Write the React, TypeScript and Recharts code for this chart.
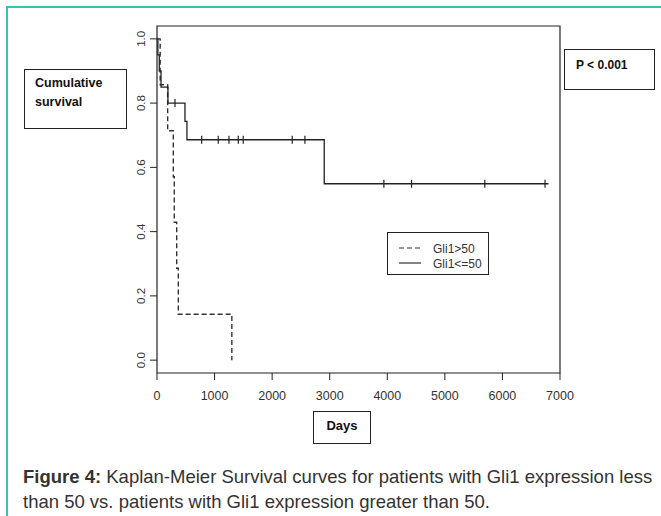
import { ComposedChart, Line, Scatter, XAxis, YAxis, ReferenceArea } from "recharts";

const xTicks = [0, 1000, 2000, 3000, 4000, 5000, 6000, 7000];
const yTicks = [0, 0.2, 0.4, 0.6, 0.8, 1.0];

// Gli1<=50 (solid)
const lowTimes = [0, 15, 40, 70, 190, 486, 520, 2905, 6800];
const lowSurv = [1, 0.95, 0.9, 0.85, 0.8, 0.743, 0.686, 0.549, 0.549];
const lowCensorTimes = [312, 776, 1064, 1250, 1412, 1498, 2349, 2569, 3941, 4421, 5694, 6740];
const lowCensorSurv = [0.8, 0.686, 0.686, 0.686, 0.686, 0.686, 0.686, 0.686, 0.549, 0.549, 0.549, 0.549];

// Gli1>50 (dashed)
const highTimes = [0, 55, 185, 283, 300, 342, 370, 1300];
const highSurv = [1, 0.857, 0.714, 0.571, 0.429, 0.286, 0.143, 0];

const lowData = lowTimes.map((t, i) => ({ t, s: lowSurv[i] }));
const lowCensors = lowCensorTimes.map((t, i) => ({ t, s: lowCensorSurv[i] }));
const highData = highTimes.map((t, i) => ({ t, s: highSurv[i] }));

const FONT = "'Liberation Sans', Arial, Helvetica, sans-serif";
const INK = "#222";

function CensorMark(props: any) {
  const { cx, cy } = props;
  return <line x1={cx} x2={cx} y1={cy - 4} y2={cy + 4} stroke={INK} strokeWidth={1.2} />;
}

function YTick(props: any) {
  const { x, y, payload } = props;
  const bx = x - 1;
  return (
    <text
      x={bx}
      y={y}
      transform={`rotate(-90 ${bx} ${y})`}
      textAnchor="middle"
      fontSize={11.5}
      fontFamily={FONT}
      fill="#333"
    >
      {Number(payload.value).toFixed(1)}
    </text>
  );
}

const boxStyle = {
  position: "absolute" as const,
  border: "1px solid #222",
  background: "#fff",
  boxSizing: "border-box" as const,
  fontFamily: FONT,
  fontWeight: 700,
  fontSize: 12,
  color: "#111",
};

export default function App() {
  return (
    <div
      style={{
        position: "absolute",
        left: 0,
        top: 0,
        width: 661,
        height: 516,
        overflow: "hidden",
        background: "#fff",
        fontFamily: FONT,
      }}
    >
      {/* teal frame */}
      <div
        style={{
          position: "absolute",
          left: 6,
          top: 6,
          width: 720,
          height: 600,
          borderTop: "2px solid #35c4b1",
          borderLeft: "2px solid #35c4b1",
        }}
      />

      <div style={{ position: "absolute", left: 0, top: 0 }}>
        <ComposedChart
          width={661}
          height={516}
          margin={{ top: 26, right: 101, bottom: 113, left: 117 }}
        >
          <XAxis
            dataKey="t"
            type="number"
            domain={[0, 7000]}
            ticks={xTicks}
            allowDataOverflow
            axisLine={false}
            tickLine={{ stroke: INK }}
            tickSize={7}
            tickMargin={11}
            height={30}
            interval={0}
            tick={{ fill: "#333", fontSize: 12.5, fontFamily: FONT }}
          />
          <YAxis
            type="number"
            domain={[-0.04, 1.04]}
            ticks={yTicks}
            allowDataOverflow
            axisLine={false}
            tickLine={{ stroke: INK }}
            tickSize={7}
            tickMargin={4}
            width={40}
            interval={0}
            tick={<YTick />}
          />
          <ReferenceArea
            x1={0}
            x2={7000}
            y1={-0.04}
            y2={1.04}
            fill="none"
            stroke={INK}
            strokeWidth={1.2}
            fillOpacity={0}
            strokeOpacity={1}
          />
          <Line
            data={highData}
            dataKey="s"
            type="stepAfter"
            stroke="#333"
            strokeWidth={1.4}
            strokeDasharray="5 3"
            dot={false}
            isAnimationActive={false}
          />
          <Line
            data={lowData}
            dataKey="s"
            type="stepAfter"
            stroke="#222"
            strokeWidth={1.3}
            dot={false}
            isAnimationActive={false}
          />
          <Scatter data={lowCensors} dataKey="s" shape={<CensorMark />} isAnimationActive={false} />
        </ComposedChart>
      </div>

      {/* Cumulative survival label */}
      <div style={{ ...boxStyle, left: 24, top: 69, width: 103, height: 60, padding: "4px 0 0 10px", lineHeight: "19px", fontSize: 12.5 }}>
        Cumulative
        <br />
        survival
      </div>

      {/* P value */}
      <div style={{ ...boxStyle, left: 564, top: 49, width: 91, height: 41, padding: "8px 0 0 11px", lineHeight: "15px" }}>
        P &lt; 0.001
      </div>

      {/* Days */}
      <div style={{ ...boxStyle, left: 313, top: 411, width: 58, height: 33, padding: "5px 0 0 0", textAlign: "center", fontSize: 13, lineHeight: "17px" }}>
        Days
      </div>

      {/* legend */}
      <div style={{ ...boxStyle, fontWeight: 400, left: 387, top: 232, width: 102, height: 43, color: "#333" }}>
        <svg width={100} height={41} style={{ position: "absolute", left: 0, top: 0 }}>
          <line x1={11} x2={33} y1={15} y2={15} stroke="#333" strokeWidth={1.2} strokeDasharray="5 3" />
          <line x1={11} x2={33} y1={30} y2={30} stroke="#333" strokeWidth={1.2} />
          <text x={45} y={19.5} fontSize={12} fontFamily={FONT} fill="#333">Gli1&gt;50</text>
          <text x={45} y={34.5} fontSize={12} fontFamily={FONT} fill="#333">Gli1&lt;=50</text>
        </svg>
      </div>

      {/* caption */}
      <div
        style={{
          position: "absolute",
          left: 23,
          top: 464,
          width: 640,
          fontSize: 18.5,
          lineHeight: "25px",
          color: "#333",
          fontFamily: FONT,
          whiteSpace: "nowrap",
        }}
      >
        <b>Figure 4:</b> Kaplan-Meier Survival curves for patients with Gli1 expression less
        <br />
        than 50 vs. patients with Gli1 expression greater than 50.
      </div>
    </div>
  );
}
